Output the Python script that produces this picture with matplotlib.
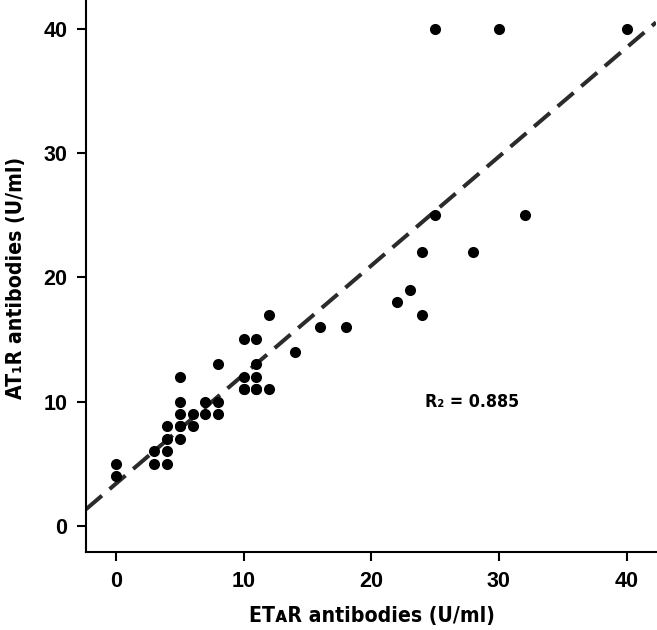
import matplotlib
matplotlib.use("Agg")
import matplotlib.pyplot as plt
import numpy as np
from matplotlib import font_manager
from matplotlib.font_manager import FontProperties

# ---- data ----
eta_r = [0, 0, 3, 3, 4, 4, 4, 4, 5, 5, 5, 5, 5, 5, 6, 6, 7, 7, 8, 8, 8,
         10, 10, 10, 10, 11, 11, 11, 11, 11, 12, 12, 14, 16, 18, 22, 23,
         24, 24, 25, 25, 28, 30, 32, 40]
at1_r = [5, 4, 6, 5, 8, 7, 6, 5, 12, 10, 9, 8, 7, 8, 9, 8, 10, 9, 13, 10, 9,
         15, 12, 11, 11, 15, 13, 12, 11, 11, 17, 11, 14, 16, 16, 18, 19,
         22, 17, 40, 25, 22, 40, 25, 40]
fit_slope = 0.877
fit_intercept = 3.4
r2_text = "R\u2082 = 0.885"
x_label = "ET\u1d00R antibodies (U/ml)"
y_label = "AT\u2081R antibodies (U/ml)"
x_ticks = [0, 10, 20, 30, 40]
y_ticks = [0, 10, 20, 30, 40]

# find an upright bold condensed sans font if available
cond = None
for f in font_manager.fontManager.ttflist:
    st = str(f.stretch).lower()
    nm = f.name
    fn = f.fname.lower()
    w = f.weight if isinstance(f.weight, int) else 700 if 'bold' in str(f.weight) else 400
    if f.style != 'normal' or 'italic' in fn or 'oblique' in fn:
        continue
    if 'Serif' in nm or 'Mono' in nm or 'Sans' not in nm:
        continue
    if not ('condensed' in st or 'condensed' in fn or 'narrow' in fn):
        continue
    if 'extra' in st or 'ultra' in st or 'extra' in fn or 'semi' in fn:
        continue
    if w < 600 or w >= 800:
        continue
    if cond is None or 'dejavu' in fn:
        cond = f

if cond is not None:
    base_fp = FontProperties(fname=cond.fname)
else:
    base_fp = FontProperties(family='Roboto', weight='bold')

def mk(size):
    fp = base_fp.copy()
    fp.set_size(size)
    return fp

fig = plt.figure(figsize=(6.57, 6.30), dpi=100)
ax = fig.add_axes([86/657, 78/630, 570/657, 552/630])

ax.scatter(eta_r, at1_r, s=64, color='black', zorder=3, linewidths=0)

xl = np.array([-2.35, 42.3])
ax.plot(xl, fit_intercept + fit_slope * xl, color='#2b2b2b', lw=2.9,
        dashes=(5.2, 2.5), zorder=2, dash_capstyle='butt')

ax.set_xlim(-2.35, 42.3)
ax.set_ylim(-2.1, 42.3)
ax.set_xticks(x_ticks)
ax.set_yticks(y_ticks)
for s in ['top', 'right']:
    ax.spines[s].set_visible(False)
for s in ['left', 'bottom']:
    ax.spines[s].set_linewidth(1.5)
ax.tick_params(direction='out', length=6.5, width=1.5, pad=7)
for lab in ax.get_xticklabels() + ax.get_yticklabels():
    lab.set_fontfamily('Liberation Sans')
    lab.set_fontweight('bold')
    lab.set_fontsize(15.5)

fig.text(372/657, 1 - 616/630, x_label, fontproperties=mk(15.2),
         ha='center', va='center')
fig.text(16/657, 1 - 278/630, y_label, fontproperties=mk(15.2),
         ha='center', va='center', rotation=90)
ax.text(27.9, 10.0, r2_text, fontproperties=mk(12.8),
        ha='center', va='center')

fig.savefig("out.png", dpi=100)
